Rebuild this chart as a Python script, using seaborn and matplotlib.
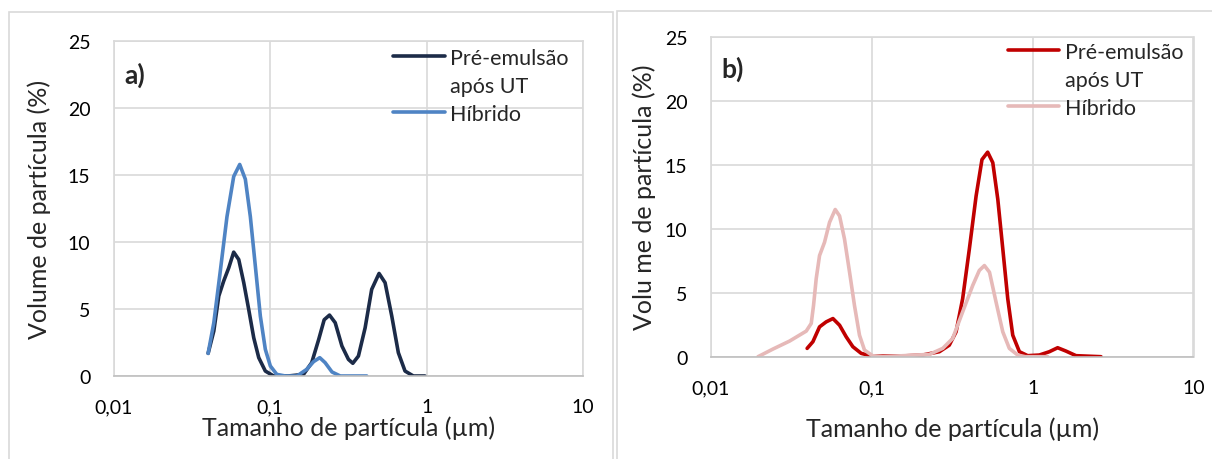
import pandas as pd
import matplotlib.pyplot as plt
import seaborn as sns
from matplotlib.lines import Line2D
from matplotlib.patches import Rectangle
from matplotlib.ticker import FixedLocator, FixedFormatter, NullLocator

# ==============================
# Data
# ==============================
# a) Pré-emulsão após UT
a_pre_x = [0.0400, 0.0435, 0.0468, 0.0503, 0.0542, 0.0583, 0.0628, 0.0676, 0.0727, 0.0783,
           0.0843, 0.0929, 0.105, 0.130, 0.163, 0.184, 0.204, 0.221, 0.239, 0.260,
           0.287, 0.316, 0.337, 0.366, 0.404, 0.445, 0.496, 0.542, 0.598, 0.659,
           0.727, 0.822, 0.975]
a_pre_y = [1.69, 3.36, 5.97, 7.09, 8.08, 9.25, 8.7, 6.97, 4.98, 2.86,
           1.37, 0.37, 0.0, 0.0, 0.12, 1.0, 2.74, 4.2, 4.55, 3.98,
           2.24, 1.24, 0.95, 1.49, 3.6, 6.47, 7.66, 6.97, 4.48, 1.74,
           0.37, 0.0, 0.0]
# a) Híbrido
a_hib_x = [0.0400, 0.0435, 0.048, 0.0528, 0.0583, 0.0637, 0.0692, 0.0745, 0.0802, 0.0863,
           0.0929, 0.100, 0.110, 0.125, 0.148, 0.171, 0.189, 0.207, 0.224, 0.248,
           0.280, 0.414]
a_hib_y = [1.69, 3.98, 7.96, 11.9, 14.9, 15.8, 14.7, 11.9, 8.2, 4.48,
           1.99, 0.75, 0.12, 0.0, 0.0, 0.5, 1.07, 1.37, 1.0, 0.3,
           0.0, 0.0]

# b) Pré-emulsão após UT
b_pre_x = [0.0396, 0.0430, 0.0473, 0.052, 0.0573, 0.0630, 0.0693, 0.0762, 0.0859, 0.100,
           0.150, 0.207, 0.263, 0.303, 0.334, 0.367, 0.404, 0.445, 0.484, 0.525,
           0.565, 0.607, 0.652, 0.700, 0.752, 0.827, 0.931, 1.10, 1.27, 1.43,
           1.61, 1.86, 2.66]
b_pre_y = [0.65, 1.17, 2.33, 2.72, 2.98, 2.46, 1.55, 0.78, 0.26, 0.05,
           0.05, 0.13, 0.39, 0.9, 1.94, 4.53, 8.42, 12.56, 15.4, 15.98,
           15.16, 12.3, 8.42, 4.53, 1.68, 0.39, 0.08, 0.13, 0.39, 0.7,
           0.44, 0.08, 0.0]
# b) Híbrido
b_hib_x = [0.0196, 0.0243, 0.0308, 0.0391, 0.042, 0.0434, 0.0451, 0.0473, 0.0508, 0.0546,
           0.0592, 0.0630, 0.0676, 0.0727, 0.0780, 0.0838, 0.0900, 0.101, 0.117, 0.228,
           0.276, 0.318, 0.367, 0.424, 0.466, 0.501, 0.539, 0.592, 0.652, 0.716,
           0.807, 0.900, 1.24]
b_hib_y = [0.0, 0.6, 1.22, 2.0, 2.6, 4.0, 6.1, 7.9, 8.94, 10.5,
           11.5, 11.0, 9.2, 6.6, 4.0, 1.68, 0.52, 0.08, 0.0, 0.18,
           0.65, 1.42, 3.5, 5.57, 6.74, 7.12, 6.6, 4.27, 1.94, 0.65,
           0.13, 0.0, 0.0]

x_ticks = [0.01, 0.1, 1, 10]
x_tick_labels = ['0,01', '0,1', '1', '10']
y_ticks = [0, 5, 10, 15, 20, 25]

label_pre = 'Pré-emulsão'
label_pre2 = 'após UT'
label_hib = 'Híbrido'

# ==============================
# Style
# ==============================
sns.set_style('white')
plt.rcParams['font.family'] = ['Lato', 'DejaVu Sans']
FS_TICK = 14
FS_LAB = 18
FS_LEG = 15.5
grid_c = '#D9D9D9'
LW = 2.6

fig = plt.figure(figsize=(12.12, 4.6), dpi=100)

# panel frames
fig.patches.append(Rectangle((8.5 / 1212, -0.05), (613 - 8.5) / 1212, 1.05 - 12.7 / 460,
                             transform=fig.transFigure, fill=False, ec=grid_c, lw=1.2))
fig.patches.append(Rectangle((617 / 1212, -0.05), 0.6, 1.05 - 12 / 460,
                             transform=fig.transFigure, fill=False, ec=grid_c, lw=1.2))

ax_a = fig.add_axes([114 / 1212, 83 / 460, 469 / 1212, 334.7 / 460])
ax_b = fig.add_axes([711 / 1212, 102.3 / 460, 482.5 / 1212, 320 / 460])

panels = [
    (ax_a, a_pre_x, a_pre_y, a_hib_x, a_hib_y, '#1C2B48', '#4F84C4', 'a)',
     'Volume de partícula (%)', (-0.134, 0.5), (0.5, -0.118), (393, 445, 450, 59)),
    (ax_b, b_pre_x, b_pre_y, b_hib_x, b_hib_y, '#C00000', '#E6B9B8', 'b)',
     'Volu me de partícula (%)', (-0.114, 0.5), (0.5, -0.186), (1008, 1059, 1065, 53)),
]

for ax, px, py, hx, hy, c_pre, c_hib, tag, ylab, ylc, xlc, leg in panels:
    df_pre = pd.DataFrame({'x': px, 'y': py})
    df_hib = pd.DataFrame({'x': hx, 'y': hy})
    sns.lineplot(data=df_pre, x='x', y='y', ax=ax, color=c_pre, lw=LW, sort=False)
    sns.lineplot(data=df_hib, x='x', y='y', ax=ax, color=c_hib, lw=LW, sort=False)

    ax.set_xscale('log')
    ax.set_xlim(0.01, 10)
    ax.set_ylim(0, 25)
    ax.xaxis.set_major_locator(FixedLocator(x_ticks))
    ax.xaxis.set_major_formatter(FixedFormatter(x_tick_labels))
    ax.xaxis.set_minor_locator(NullLocator())
    ax.set_yticks(y_ticks)
    ax.grid(True, color=grid_c, lw=1.2)
    for s in ax.spines.values():
        s.set_color(grid_c)
        s.set_linewidth(1.2)
    ax.spines['bottom'].set_color('#BFBFBF')
    ax.tick_params(axis='both', length=0, labelsize=FS_TICK, colors='#000000')
    ax.tick_params(axis='y', pad=17)
    ax.tick_params(axis='x', pad=16)

    ax.set_xlabel('Tamanho de partícula (µm)', fontsize=FS_LAB)
    ax.set_ylabel(ylab, fontsize=FS_LAB)
    ax.yaxis.set_label_coords(*ylc)
    ax.xaxis.set_label_coords(*xlc)

    ax.text(0.022, 0.9, tag, transform=ax.transAxes, fontsize=19, fontweight='bold',
            va='center', ha='left')

    # legend: line handle on the first text row, as in the reference
    x0, x1, xt, row0 = leg
    fs_px = FS_LEG * 100 / 72
    handles = [Line2D([], [], color=c_pre, lw=LW),
               Line2D([], [], color='none', lw=0),
               Line2D([], [], color=c_hib, lw=LW)]
    fig.legend(handles, [label_pre, label_pre2, label_hib],
               loc='upper left', bbox_to_anchor=(x0 / 1212, 1 - (row0 - 10) / 460),
               frameon=False, fontsize=FS_LEG, handlelength=(x1 - x0) / fs_px,
               handletextpad=(xt - x1) / fs_px, borderpad=0, borderaxespad=0,
               labelspacing=0.37)

fig.savefig('out.png', dpi=100)
